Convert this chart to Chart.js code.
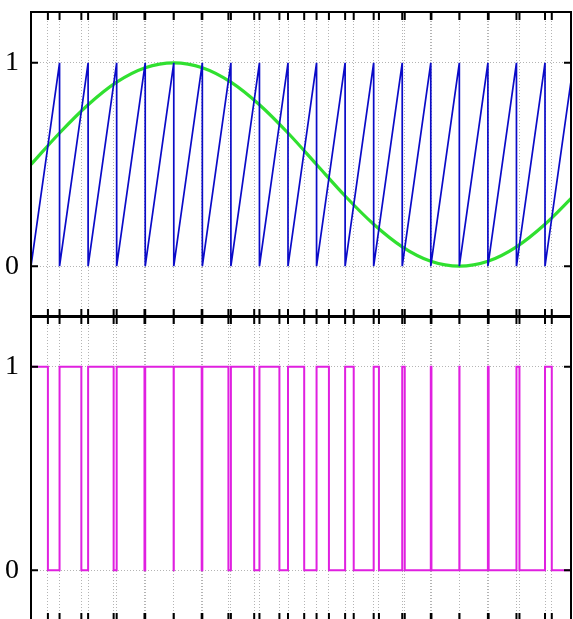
<!DOCTYPE html>
<html>
<head>
<meta charset="utf-8">
<script src="https://cdn.jsdelivr.net/npm/chart.js@4.4.1/dist/chart.umd.min.js"></script>
<style>
  html, body { margin: 0; padding: 0; background: #fff; overflow: hidden; width: 573px; height: 619px; }
  canvas { position: absolute; left: 0; }
  #topChart { top: 0; }
  #bottomChart { top: 304px; }
</style>
</head>
<body>
<canvas id="topChart" width="573" height="330"></canvas>
<canvas id="bottomChart" width="573" height="330"></canvas>
<script>
// x is measured in carrier periods
var xMax = 18.91;

// Sawtooth carrier (vertices)
var sawX = [0, 1, 1, 2, 2, 3, 3, 4, 4, 5, 5, 6, 6, 7, 7, 8, 8, 9, 9, 10, 10,
            11, 11, 12, 12, 13, 13, 14, 14, 15, 15, 16, 16, 17, 17, 18, 18, 19];
var sawY = [0, 1, 0, 1, 0, 1, 0, 1, 0, 1, 0, 1, 0, 1, 0, 1, 0, 1, 0, 1, 0,
            1, 0, 1, 0, 1, 0, 1, 0, 1, 0, 1, 0, 1, 0, 1, 0, 1];

// Reference (green) read at each carrier period
var sineX = [0, 1, 2, 3, 4, 5, 6, 7, 8, 9, 10, 11, 12, 13, 14, 15, 16, 17, 18, 19];
var sineY = [0.5, 0.655, 0.794, 0.905, 0.976, 1.0, 0.976, 0.905, 0.794, 0.655,
             0.5, 0.345, 0.206, 0.095, 0.024, 0.0, 0.024, 0.095, 0.206, 0.345];

// PWM output: where it falls to 0 and rises back to 1
var pwmFall = [0.592, 1.763, 2.894, 3.974, 4.995, 5.977, 6.913, 7.816, 8.699, 9.567,
               10.433, 11.301, 12.184, 13.088, 14.023, 15.005, 16.026, 17.105, 18.237];
var pwmRise = [1, 2, 3, 4, 5, 6, 7, 8, 9, 10, 11, 12, 13, 14, 15, 16, 17, 18];

// Tick labels on y
var yTicks = [0, 1];

// Build the points for the charts
function toPoints(xs, ys) {
  return xs.map(function (x, i) { return {x: x, y: ys[i]}; });
}

var pwmPoints = [{x: 0, y: 1}];
for (var i = 0; i < pwmFall.length; i++) {
  pwmPoints.push({x: pwmFall[i], y: 0});
  if (i < pwmRise.length) pwmPoints.push({x: pwmRise[i], y: 1});
}
pwmPoints.push({x: xMax, y: 0});

// Grid / tick positions at every switching instant
var switchX = pwmFall.concat(pwmRise).filter(function (v) { return v < xMax; })
  .sort(function (a, b) { return a - b; });

// Frame with inward ticks, gnuplot style
var framePlugin = {
  id: 'frame',
  afterDraw: function (chart) {
    var ctx = chart.ctx;
    var a = chart.chartArea;
    var sx = chart.scales.x, sy = chart.scales.y;
    ctx.save();
    ctx.strokeStyle = '#000';
    ctx.lineWidth = 2;
    ctx.strokeRect(a.left, a.top, a.right - a.left, a.bottom - a.top);
    ctx.beginPath();
    switchX.forEach(function (v) {
      var px = sx.getPixelForValue(v);
      ctx.moveTo(px, a.top); ctx.lineTo(px, a.top + 8);
      ctx.moveTo(px, a.bottom); ctx.lineTo(px, a.bottom - 8);
    });
    yTicks.forEach(function (v) {
      var py = sy.getPixelForValue(v);
      ctx.moveTo(a.left, py); ctx.lineTo(a.left + 7, py);
      ctx.moveTo(a.right, py); ctx.lineTo(a.right - 7, py);
    });
    ctx.stroke();
    ctx.restore();
  }
};

function makeOptions() {
  return {
    responsive: false,
    animation: false,
    devicePixelRatio: 1,
    layout: { padding: { top: 12, right: 2, bottom: 13, left: 0 } },
    plugins: { legend: { display: false }, tooltip: { enabled: false } },
    elements: { point: { radius: 0 } },
    scales: {
      x: {
        type: 'linear',
        min: 0,
        max: xMax,
        afterBuildTicks: function (scale) {
          scale.ticks = switchX.map(function (v) { return {value: v}; });
        },
        afterFit: function (scale) {
          scale.height = 0;
          scale.paddingLeft = 0;
          scale.paddingRight = 0;
        },
        ticks: { display: false },
        grid: { color: '#b4b4b4', lineWidth: 1, drawTicks: false },
        border: { display: false, dash: [1, 2] }
      },
      y: {
        min: -0.25,
        max: 1.25,
        afterBuildTicks: function (scale) {
          scale.ticks = yTicks.map(function (v) { return {value: v}; });
        },
        afterFit: function (scale) {
          scale.width = 31;
          scale.paddingTop = 0;
          scale.paddingBottom = 0;
        },
        ticks: {
          color: '#000',
          padding: 12,
          font: { family: "'Liberation Serif', 'Times New Roman', serif", size: 28 }
        },
        grid: { color: '#b4b4b4', lineWidth: 1, drawTicks: false },
        border: { display: false, dash: [1, 2] }
      }
    }
  };
}

new Chart(document.getElementById('topChart'), {
  type: 'line',
  data: {
    datasets: [
      {
        label: 'carrier',
        data: toPoints(sawX, sawY),
        borderColor: '#0a0ac8',
        borderWidth: 1.7,
        tension: 0
      },
      {
        label: 'reference',
        data: toPoints(sineX, sineY),
        borderColor: '#30e030',
        borderWidth: 3.2,
        cubicInterpolationMode: 'monotone'
      }
    ]
  },
  options: makeOptions(),
  plugins: [framePlugin]
});

new Chart(document.getElementById('bottomChart'), {
  type: 'line',
  data: {
    datasets: [
      {
        label: 'pwm',
        data: pwmPoints,
        borderColor: '#e020e0',
        borderWidth: 2,
        stepped: 'before'
      }
    ]
  },
  options: makeOptions(),
  plugins: [framePlugin]
});
</script>
</body>
</html>
